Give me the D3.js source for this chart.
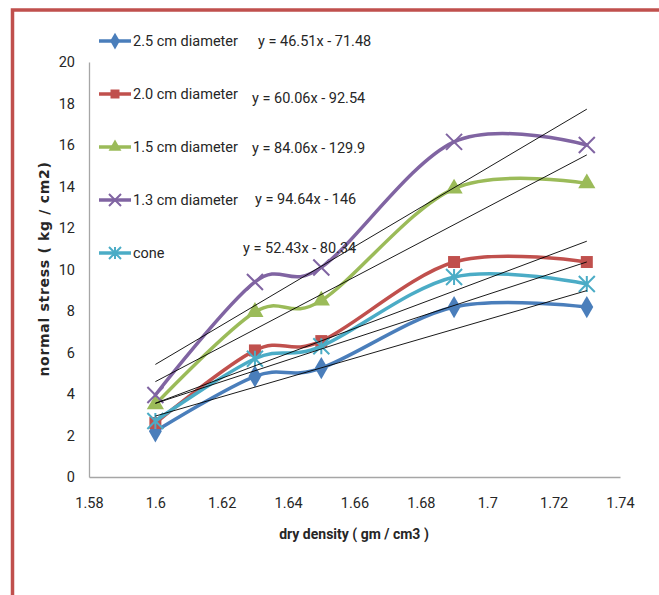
<!DOCTYPE html>
<html>
<head>
  <title>Normal stress vs dry density</title>
  <script src="https://cdn.jsdelivr.net/npm/d3@7.0.0/dist/d3.min.js"></script>
  <style>
    body { margin: 0; background: #fff; }
    text { font-family: Roboto, "Open Sans", sans-serif; fill: #262626; }
  </style>
</head>
<body>
  <div id="chart"></div>

  <script>
    // dry density values (x) and normal stress for each series
    var density = [1.6, 1.63, 1.65, 1.69, 1.73];
    var seriesNames = ["2.5 cm diameter", "2.0 cm diameter", "1.5 cm diameter", "1.3 cm diameter", "cone"];
    var stress25 = [2.2, 4.85, 5.25, 8.19, 8.19];
    var stress20 = [2.6, 6.1, 6.55, 10.36, 10.36];
    var stress15 = [3.5, 7.95, 8.5, 13.9, 14.15];
    var stress13 = [3.95, 9.4, 10.1, 16.15, 16.0];
    var stressCone = [2.7, 5.7, 6.3, 9.64, 9.3];
    // linear trendline coefficients shown on the chart
    var slopes = [46.51, 60.06, 84.06, 94.64, 52.43];
    var intercepts = [-71.48, -92.54, -129.9, -146, -80.34];
    var equations = ["y = 46.51x - 71.48", "y = 60.06x - 92.54", "y = 84.06x - 129.9", "y = 94.64x - 146", "y = 52.43x - 80.34"];
    var xTicks = [1.58, 1.6, 1.62, 1.64, 1.66, 1.68, 1.7, 1.72, 1.74];
    var yTicks = [0, 2, 4, 6, 8, 10, 12, 14, 16, 18, 20];

    var allStress = [stress25, stress20, stress15, stress13, stressCone];
    var colors = ["#4a7ebb", "#c0504d", "#9bbb59", "#8064a2", "#4bacc6"];
    var markers = ["diamond", "square", "triangle", "x", "star"];

    var W = 659, H = 595;
    var svg = d3.select("#chart").append("svg")
      .attr("width", W)
      .attr("height", H);

    // outer red frame (runs off right and bottom)
    svg.append("rect")
      .attr("x", 12.5).attr("y", 10)
      .attr("width", W + 20).attr("height", H + 20)
      .attr("fill", "none")
      .attr("stroke", "#c0504d")
      .attr("stroke-width", 3.5);

    var x = d3.scaleLinear().domain([1.58, 1.74]).range([89, 620]);
    var y = d3.scaleLinear().domain([0, 20]).range([477, 62]);

    // axes
    var xAxis = svg.append("g")
      .attr("transform", "translate(0,477)")
      .call(d3.axisBottom(x).tickValues(xTicks).tickSize(0).tickPadding(21)
        .tickFormat(function(d) { return String(+d.toFixed(2)); }));
    var yAxis = svg.append("g")
      .attr("transform", "translate(89,0)")
      .call(d3.axisLeft(y).tickValues(yTicks).tickSize(0).tickPadding(14));
    [xAxis, yAxis].forEach(function(a) {
      a.select(".domain").attr("stroke", "#a6a6a6").attr("stroke-width", 1.3);
      a.selectAll("text").style("font-size", "14.5px")
        .style("font-family", "Roboto, 'Open Sans', sans-serif")
        .attr("fill", "#262626");
    });

    // axis titles
    svg.append("text")
      .attr("x", 354).attr("y", 539)
      .attr("text-anchor", "middle")
      .style("font-size", "14px").style("font-weight", "bold")
      .attr("fill", "#000")
      .text("dry density ( gm / cm3 )");
    svg.append("text")
      .attr("transform", "translate(49,269) rotate(-90)")
      .attr("text-anchor", "middle")
      .style("font-family", "'DejaVu Sans', sans-serif")
      .style("font-size", "14px").style("font-weight", "bold")
      .style("letter-spacing", "0.7px")
      .attr("fill", "#000")
      .text("normal stress ( kg / cm2)");

    function markerPath(type, s) {
      if (type === "diamond") return d3.symbol(d3.symbolDiamond, s * 9)();
      if (type === "square") return d3.symbol(d3.symbolSquare, s * 9)();
      if (type === "triangle") return d3.symbol(d3.symbolTriangle, s * 8)();
      return null;
    }

    function drawMarker(g, type, color, cx, cy, s) {
      if (type === "x") {
        g.append("path")
          .attr("d", "M" + (cx - s) + "," + (cy - s) + "L" + (cx + s) + "," + (cy + s) +
                     "M" + (cx - s) + "," + (cy + s) + "L" + (cx + s) + "," + (cy - s))
          .attr("stroke", color).attr("stroke-width", 2).attr("fill", "none");
      } else if (type === "star") {
        g.append("path")
          .attr("d", "M" + (cx - s) + "," + (cy - s) + "L" + (cx + s) + "," + (cy + s) +
                     "M" + (cx - s) + "," + (cy + s) + "L" + (cx + s) + "," + (cy - s) +
                     "M" + cx + "," + (cy - s) + "L" + cx + "," + (cy + s))
          .attr("stroke", color).attr("stroke-width", 2).attr("fill", "none");
      } else {
        g.append("path")
          .attr("d", markerPath(type, s * s / 4))
          .attr("transform", "translate(" + cx + "," + cy + ")")
          .attr("fill", color);
      }
    }

    var line = d3.line()
      .x(function(d) { return x(d[0]); })
      .y(function(d) { return y(d[1]); })
      .curve(d3.curveCatmullRom.alpha(0));

    // series curves + markers
    allStress.forEach(function(vals, i) {
      var pts = density.map(function(d, j) { return [d, vals[j]]; });
      var g = svg.append("g");
      g.append("path")
        .datum(pts)
        .attr("d", line)
        .attr("fill", "none")
        .attr("stroke", colors[i])
        .attr("stroke-width", 3.5)
        .attr("stroke-linecap", "round");
      pts.forEach(function(p) {
        drawMarker(g, markers[i], colors[i], x(p[0]), y(p[1]), 8);
      });
    });

    // trendlines
    slopes.forEach(function(m, i) {
      var x0 = density[0], x1 = density[density.length - 1];
      svg.append("line")
        .attr("x1", x(x0)).attr("y1", y(m * x0 + intercepts[i]))
        .attr("x2", x(x1)).attr("y2", y(m * x1 + intercepts[i]))
        .attr("stroke", "#000")
        .attr("stroke-width", 0.9);
    });

    // legend
    var legY = [41, 94, 147, 200, 253];
    seriesNames.forEach(function(name, i) {
      var g = svg.append("g");
      g.append("line")
        .attr("x1", 99).attr("x2", 131)
        .attr("y1", legY[i]).attr("y2", legY[i])
        .attr("stroke", colors[i]).attr("stroke-width", 3.5);
      drawMarker(g, markers[i], colors[i], 115, legY[i], 6);
      g.append("text")
        .attr("x", 133).attr("y", legY[i] + 5)
        .style("font-size", "14.5px")
        .text(name);
    });

    // equation labels
    var eqX = [258, 252, 252, 255, 243];
    var eqY = [46, 103, 153, 204, 253];
    equations.forEach(function(t, i) {
      svg.append("text")
        .attr("x", eqX[i]).attr("y", eqY[i])
        .style("font-size", "14.5px")
        .text(t);
    });
  </script>
</body>
</html>
